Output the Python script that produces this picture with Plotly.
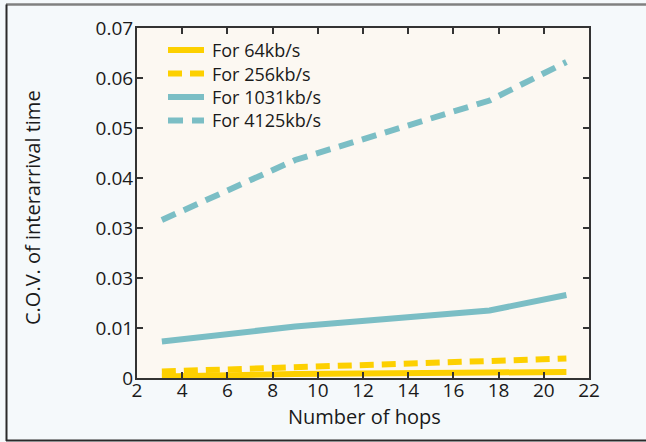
import plotly.graph_objects as go

# Coefficient of variation of packet interarrival time vs. path length
hops = [3.1, 9, 17.6, 21]
cov_64 = [0.0003, 0.0008, 0.0011, 0.0012]
cov_256 = [0.0013, 0.0022, 0.0033, 0.0039]
cov_1031 = [0.0073, 0.0103, 0.0135, 0.0166]
cov_4125 = [0.0316, 0.0436, 0.0555, 0.0632]

series_names = ["For 64kb/s", "For 256kb/s", "For 1031kb/s", "For 4125kb/s"]

x_ticks = list(range(2, 23, 2))
y_tickvals = [0, 0.01, 0.02, 0.03, 0.04, 0.05, 0.06, 0.07]
y_ticktext = ["0", "0.01", "0.03", "0.03", "0.04", "0.05", "0.06", "0.07"]

YELLOW = "#fdd000"
TEAL = "#7bbec5"
FONT = "Open Sans"
TXT = "#1a1a1a"

# plot area geometry in pixels
L, R, T, B = 137, 57, 28, 64
W, H = 646, 442
pw, ph = W - L - R, H - T - B


def px_x(px):
    return (px - L) / pw


def px_y(py):
    return (H - B - py) / ph


fig = go.Figure()
styles = [
    (cov_64, YELLOW, "solid"),
    (cov_256, YELLOW, "14px,8px"),
    (cov_1031, TEAL, "solid"),
    (cov_4125, TEAL, "15px,9px"),
]
for name, (vals, color, dash) in zip(series_names, styles):
    fig.add_trace(go.Scatter(
        x=hops, y=vals, name=name, mode="lines",
        line=dict(color=color, width=6, dash=dash),
        cliponaxis=False, showlegend=False,
    ))

# legend: short line sample + label per series, stacked in the upper-left corner
legend_rows = [50, 73.5, 97, 120.5]
for name, (vals, color, dash), row in zip(series_names, styles, legend_rows):
    fig.add_shape(type="line", xref="paper", yref="paper",
                  x0=px_x(168), x1=px_x(204), y0=px_y(row), y1=px_y(row),
                  line=dict(color=color, width=6, dash=dash))
    fig.add_annotation(text=name, xref="paper", yref="paper",
                       x=px_x(211), y=px_y(row), xanchor="left", yanchor="middle",
                       showarrow=False, borderpad=0,
                       font=dict(family=FONT, size=18, color=TXT))

# outer frame (top, left, bottom)
frame = [
    dict(x0=px_x(6), x1=px_x(W), y0=px_y(4.5), y1=px_y(4.5), color="#808080", w=2.5),
    dict(x0=px_x(6.5), x1=px_x(6.5), y0=px_y(4.5), y1=px_y(441), color="#2a2a2a", w=2),
    dict(x0=px_x(6), x1=px_x(W), y0=px_y(440.5), y1=px_y(440.5), color="#2a2a2a", w=2),
]
for f in frame:
    fig.add_shape(type="line", xref="paper", yref="paper",
                  x0=f["x0"], x1=f["x1"], y0=f["y0"], y1=f["y1"],
                  line=dict(color=f["color"], width=f["w"]), layer="above")

fig.add_annotation(
    text="C.O.V. of interarrival time", xref="paper", yref="paper",
    x=px_x(33), y=px_y(208), textangle=-90, showarrow=False,
    xanchor="center", yanchor="middle",
    font=dict(family=FONT, size=20, color=TXT),
)
fig.add_annotation(
    text="Number of hops", xref="paper", yref="paper",
    x=px_x(364), y=px_y(416), showarrow=False,
    xanchor="center", yanchor="middle",
    font=dict(family=FONT, size=20, color=TXT),
)

axis_common = dict(
    showline=True, linecolor="#333333", linewidth=2, mirror="ticks",
    ticks="inside", ticklen=6, tickwidth=1.5, tickcolor="#333333",
    showgrid=False, zeroline=False,
    tickfont=dict(family=FONT, size=19, color=TXT),
)

fig.update_layout(
    width=W, height=H,
    margin=dict(l=L, r=R, t=T, b=B),
    paper_bgcolor="#f5f9fb",
    plot_bgcolor="#fcf8f2",
    font=dict(family=FONT, color=TXT),
    xaxis=dict(range=[2, 22], tickvals=x_ticks, ticklabelstandoff=-6, **axis_common),
    yaxis=dict(range=[0, 0.07], tickvals=y_tickvals, ticktext=y_ticktext,
               ticklabelstandoff=-2, **axis_common),
    showlegend=False,
)

fig.write_html("out.html")
